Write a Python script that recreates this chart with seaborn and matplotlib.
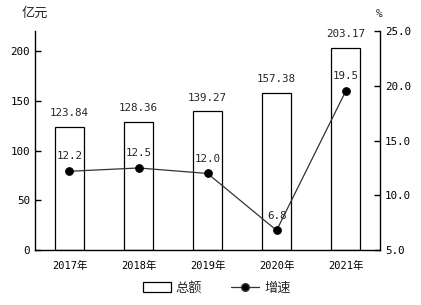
import matplotlib
matplotlib.use("Agg")
import matplotlib.pyplot as plt
import seaborn as sns
import pandas as pd
from matplotlib.lines import Line2D
from matplotlib.patches import Patch

years = ["2017年", "2018年", "2019年", "2020年", "2021年"]
totals = [123.84, 128.36, 139.27, 157.38, 203.17]
growth = [12.2, 12.5, 12.0, 6.8, 19.5]
left_ticks = [0, 50, 100, 150, 200]
right_ticks = [5.0, 10.0, 15.0, 20.0, 25.0]

sns.set_style("white")
plt.rcParams['font.family'] = ['DejaVu Sans Mono', 'Noto Sans CJK SC']
plt.rcParams['font.size'] = 8

df = pd.DataFrame({"year": years, "total": totals, "growth": growth})

fig = plt.figure(figsize=(4.21, 3.05), dpi=100)
ax = fig.add_axes([0.083, 0.180, 0.820, 0.718])
sns.barplot(data=df, x="year", y="total", ax=ax, width=0.41,
            facecolor="white", edgecolor="black", linewidth=0.9)
ax.set_xlim(-0.5, 4.5)
ax.set_ylim(0, 220)
ax.set_yticks(left_ticks)
ax.set_xlabel("")
ax.set_ylabel("")
for i, v in enumerate(totals):
    ax.text(i, v + 9, f"{v:.2f}", ha="center", va="bottom", fontsize=7.8)

ax2 = ax.twinx()
sns.lineplot(x=list(range(len(years))), y=growth, ax=ax2, color="#333333",
             linewidth=0.9, marker="o", markersize=5.5,
             markerfacecolor="black", markeredgecolor="black")
ax2.set_ylim(5, 25)
ax2.set_yticks(right_ticks)
ax2.set_yticklabels([f"{t:.1f}" for t in right_ticks])
ax2.set_xlim(-0.5, 4.5)
for i, v in enumerate(growth):
    ax2.text(i, v + 0.9, f"{v:.1f}", ha="center", va="bottom", fontsize=7.8)

for a in (ax, ax2):
    a.spines["top"].set_visible(False)
    for s in a.spines.values():
        s.set_color("black")
        s.set_linewidth(1.0)
    a.tick_params(direction="in", length=4, width=1, colors="black", labelsize=7.8)
ax.tick_params(axis="x", length=0, pad=8, labelsize=7.5)
ax.spines["right"].set_visible(False)
ax2.spines["left"].set_visible(False)
ax2.spines["bottom"].set_visible(False)

fig.text(0.052, 0.955, "亿元", fontsize=9.5, va="center", ha="left")
fig.text(0.900, 0.955, "%", fontsize=8, va="center", ha="center")

handles = [Patch(facecolor="white", edgecolor="black", linewidth=0.9, label="总额"),
           Line2D([0], [0], color="#333333", linewidth=0.9, marker="o",
                  markersize=5.5, markerfacecolor="black", label="增速")]
fig.legend(handles=handles, loc="center", bbox_to_anchor=(0.515, 0.055), ncol=2,
           frameon=False, fontsize=9.5, handlelength=2.1, handleheight=0.8,
           columnspacing=2.2, handletextpad=0.4)

fig.savefig("out.png", dpi=100)
